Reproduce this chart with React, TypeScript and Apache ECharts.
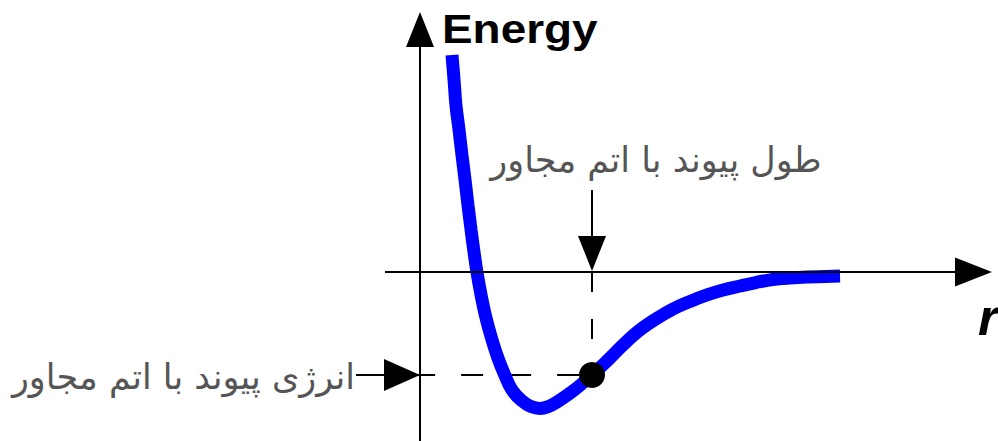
import React, { useEffect, useRef } from 'react';
import * as echarts from 'echarts';

// Potential-energy curve: distance r (equilibrium r0 = 1) vs energy (bond energy = -1)
const curveR = [0.186, 0.198, 0.209, 0.227, 0.244, 0.262, 0.279, 0.297, 0.314, 0.331, 0.355, 0.384, 0.419, 0.453, 0.488, 0.535, 0.593, 0.645, 0.698, 0.747, 0.797, 0.890, 1.000, 1.093, 1.186, 1.279, 1.372, 1.471, 1.570, 1.669, 1.762, 1.860, 1.953, 2.052, 2.151, 2.250, 2.442];
const curveE = [2.107, 1.864, 1.621, 1.379, 1.136, 0.893, 0.650, 0.408, 0.194, 0.000, -0.223, -0.447, -0.660, -0.835, -0.981, -1.146, -1.252, -1.306, -1.325, -1.306, -1.262, -1.155, -1.000, -0.854, -0.699, -0.563, -0.456, -0.359, -0.286, -0.223, -0.175, -0.136, -0.102, -0.073, -0.058, -0.049, -0.039];

const equilibriumR = [1.0];
const bondEnergy = [-1.0];

// Axis extents (data units)
const xRange = [-2.4419, 3.3605];
const yRange = [-1.6408, 2.6408];
const xAxisSpan = [-0.2035, 3.218];
const yAxisSpan = [-1.6408, 2.354];
const lengthArrowE = [0.796, 0.18];
const energyArrowR = [-0.372, -0.1047];
const dashStartR = [-0.04];

const yTitle = 'Energy';
const xTitle = 'r';
const lengthLabel = 'طول پیوند با اتم مجاور';
const energyLabel = 'انرژی پیوند با اتم مجاور';

export default function App() {
  const ref = useRef<HTMLDivElement>(null);
  useEffect(() => {
    if (!ref.current) return;
    const chart = echarts.init(ref.current, null, { renderer: 'svg' });
    const r0 = equilibriumR[0];
    const e0 = bondEnergy[0];
    const arrowEnd = (size: number[]) => ({ symbol: 'triangle', symbolSize: size });
    const option: any = {
      animation: false,
      grid: { left: 0, right: 0, top: 0, bottom: 0 },
      xAxis: { type: 'value', min: xRange[0], max: xRange[1], show: false },
      yAxis: { type: 'value', min: yRange[0], max: yRange[1], show: false },
      series: [
        {
          type: 'line',
          z: 1,
          data: [[dashStartR[0], e0], [r0, e0]],
          showSymbol: false,
          symbol: 'none',
          silent: true,
          lineStyle: { color: '#000', width: 2, type: [22, 26] },
          markLine: {
            silent: true,
            animation: false,
            symbol: ['none', 'triangle'],
            label: { show: false },
            emphasis: { disabled: true },
            lineStyle: { color: '#000', width: 2, type: 'solid' },
            data: [
              [{ coord: [xAxisSpan[0], 0], symbol: 'none' }, { coord: [xAxisSpan[1], 0], ...arrowEnd([29, 37]) }],
              [{ coord: [0, yAxisSpan[0]], symbol: 'none' }, { coord: [0, yAxisSpan[1]], ...arrowEnd([28, 35]) }],
              [{ coord: [r0, lengthArrowE[0]], symbol: 'none' }, { coord: [r0, lengthArrowE[1]], ...arrowEnd([28, 35]) }],
              [{ coord: [energyArrowR[0], e0], symbol: 'none' }, { coord: [energyArrowR[1], e0], ...arrowEnd([32, 36]) }],
            ],
          },
        },
        {
          type: 'line',
          z: 1,
          data: [[r0, 0], [r0, e0]],
          showSymbol: false,
          symbol: 'none',
          silent: true,
          lineStyle: { color: '#000', width: 2, type: [20, 27] },
        },
        {
          type: 'line',
          z: 3,
          data: curveR.map((r, i) => [r, curveE[i]]),
          smooth: 0.4,
          showSymbol: false,
          symbol: 'none',
          silent: true,
          lineStyle: { color: '#0000ff', width: 13, cap: 'butt' },
        },
        {
          type: 'scatter',
          z: 4,
          data: [[r0, e0]],
          symbol: 'circle',
          symbolSize: 26,
          silent: true,
          itemStyle: { color: '#000', opacity: 1 },
        },
      ],
      graphic: [
        {
          type: 'text', x: 442, y: 29, scaleX: 1.12,
          style: { text: yTitle, font: 'bold 41px "Liberation Sans", Arial, sans-serif', fill: '#000', align: 'left', verticalAlign: 'middle' },
        },
        {
          type: 'text', x: 978, y: 317,
          style: { text: xTitle, font: 'italic bold 52px "Liberation Sans", Arial, sans-serif', fill: '#000', align: 'left', verticalAlign: 'middle' },
        },
        {
          type: 'text', x: 656, y: 160,
          style: { text: lengthLabel, font: '35px "DejaVu Sans", sans-serif', fill: '#555', align: 'center', verticalAlign: 'middle' },
        },
        {
          type: 'text', x: 355, y: 377,
          style: { text: energyLabel, font: '35px "DejaVu Sans", sans-serif', fill: '#555', align: 'right', verticalAlign: 'middle' },
        },
      ],
    };
    chart.setOption(option);
    return () => chart.dispose();
  }, []);
  return <div ref={ref} style={{ position: 'absolute', left: 0, top: 0, width: 998, height: 441, background: '#fff' }} />;
}
